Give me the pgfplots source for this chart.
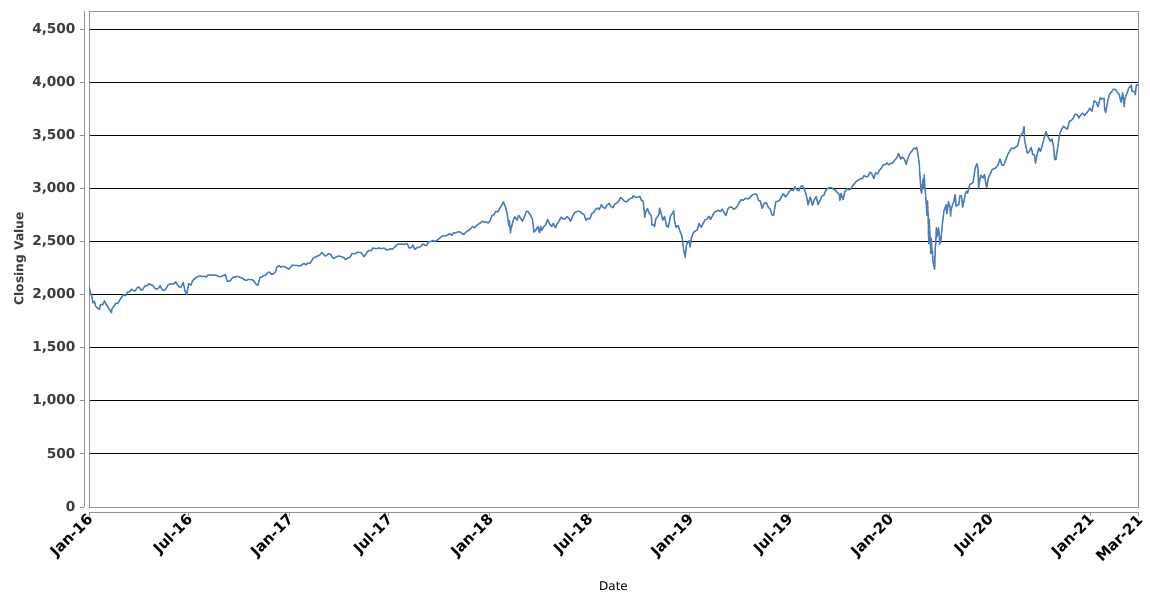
\documentclass[border=0pt]{standalone}
\usepackage{fontspec}
\setmainfont{DejaVu Sans}
\usepackage{pgfplots}
\pgfplotsset{compat=1.18}
\definecolor{serie}{RGB}{74,126,187}
\definecolor{tickgray}{RGB}{60,60,60}
\begin{document}
\begin{tikzpicture}
\useasboundingbox (0,0) rectangle (1150bp,600bp);
\begin{axis}[
  at={(89bp,93bp)}, anchor=south west,
  scale only axis, width=1049bp, height=496bp,
  xmin=0, xmax=1914, ymin=0, ymax=4670,
  axis line style={draw=gray!85, line width=0.9bp},
  ytick={0,500,...,4500},
  ymajorgrids, grid style={black, line width=0.9bp},
  xtick={0,182,366,547,731,912,1096,1277,1461,1643,1827,1914},
  xticklabels={Jan-16,Jul-16,Jan-17,Jul-17,Jan-18,Jul-18,Jan-19,Jul-19,Jan-20,Jul-20,Jan-21,Mar-21},
  xtick pos=bottom, ytick pos=left,
  tick align=outside, major tick length=4bp,
  xtick style={yshift=-5bp, draw=gray!85, line width=0.9bp},
  ytick style={xshift=-5bp, draw=gray!85, line width=0.9bp},
  /pgf/number format/assume math mode=true,
  /pgf/number format/1000 sep={,},
  scaled y ticks=false,
  yticklabel style={font=\fontsize{13.7}{16}\selectfont\bfseries, text=tickgray, xshift=-6bp},
  xticklabel style={font=\fontsize{14.8}{17}\selectfont\bfseries, text=black, rotate=45, anchor=east, yshift=-6bp, xshift=0bp},
  xlabel={Date}, ylabel={Closing Value},
  xlabel style={at={(axis description cs:0.5,-0.159)}, anchor=center, font=\fontsize{12}{14}\selectfont},
  ylabel style={at={(axis description cs:-0.0658,0.5)}, anchor=center, font=\fontsize{12.3}{15}\selectfont\bfseries, text=tickgray},
  clip mode=individual,
]
\addplot[serie, line width=1.5bp, mark=none, line join=round] coordinates {
(0,2075)(3,2013)(5,1990)(7,1922)(10,1938)(12,1890)(14,1880)(19,1859)(21,1907)(25,1903)(28,1940)(32,1903)(35,1880)(38,1853)(41,1829)(42,1865)(46,1895)(49,1918)(53,1921)(56,1948)(60,1978)(63,1999)(67,1989)(70,2022)(74,2027)(77,2050)(81,2036)(84,2036)(88,2064)(91,2073)(95,2042)(98,2048)(102,2082)(105,2081)(110,2102)(112,2092)(116,2088)(119,2065)(123,2051)(126,2057)(130,2084)(133,2047)(137,2040)(140,2052)(144,2090)(147,2099)(151,2100)(154,2099)(158,2119)(161,2096)(165,2071)(168,2071)(172,2113)(175,2037)(178,2001)(182,2103)(186,2089)(189,2130)(193,2152)(196,2162)(200,2173)(203,2175)(207,2169)(210,2174)(214,2164)(217,2183)(221,2185)(224,2184)(228,2182)(231,2184)(235,2175)(238,2169)(242,2171)(245,2180)(249,2186)(252,2128)(256,2125)(259,2139)(263,2164)(266,2165)(270,2171)(273,2168)(277,2160)(280,2153)(284,2139)(287,2133)(291,2144)(294,2141)(298,2139)(301,2126)(305,2097)(308,2085)(312,2163)(315,2164)(319,2181)(322,2182)(326,2204)(329,2213)(333,2191)(336,2192)(340,2212)(343,2260)(347,2271)(350,2258)(354,2266)(357,2264)(361,2250)(364,2239)
(368,2258)(371,2277)(375,2275)(378,2275)(382,2271)(385,2271)(389,2281)(392,2295)(396,2279)(399,2297)(403,2293)(406,2316)(410,2349)(413,2351)(417,2364)(420,2367)(425,2396)(427,2383)(431,2362)(434,2372)(438,2385)(441,2378)(445,2344)(448,2344)(452,2358)(455,2363)(459,2360)(462,2355)(466,2344)(468,2329)(473,2348)(476,2349)(480,2388)(483,2384)(487,2388)(490,2399)(494,2397)(497,2391)(502,2357)(503,2365)(508,2405)(511,2416)(515,2412)(518,2439)(522,2433)(525,2432)(529,2440)(532,2433)(536,2436)(539,2438)(543,2419)(546,2423)(550,2432)(553,2425)(557,2444)(560,2459)(564,2477)(567,2473)(571,2477)(574,2472)(578,2477)(581,2477)(584,2439)(588,2441)(591,2468)(594,2430)(595,2425)(599,2444)(602,2443)(606,2457)(609,2477)(613,2465)(616,2461)(620,2497)(623,2500)(627,2508)(630,2502)(634,2507)(637,2519)(641,2537)(644,2549)(648,2555)(651,2553)(655,2562)(658,2575)(662,2557)(665,2581)(669,2579)(672,2588)(676,2591)(679,2582)(683,2564)(686,2579)(690,2599)(693,2602)(697,2626)(700,2642)(704,2629)(707,2651)(711,2664)(714,2675)(718,2690)(721,2683)(725,2683)(728,2674)
(732,2695)(735,2743)(739,2752)(742,2786)(746,2777)(749,2810)(753,2839)(756,2873)(760,2822)(763,2762)(766,2649)(767,2695)(769,2581)(770,2620)(774,2698)(777,2732)(781,2701)(784,2747)(788,2714)(791,2691)(795,2740)(798,2786)(801,2783)(805,2752)(809,2711)(812,2588)(816,2613)(819,2641)(822,2582)(824,2644)(826,2604)(830,2642)(833,2656)(837,2708)(840,2670)(844,2639)(847,2670)(851,2630)(854,2663)(858,2697)(861,2728)(865,2711)(868,2713)(872,2733)(875,2721)(879,2690)(882,2735)(886,2772)(889,2779)(893,2786)(896,2780)(900,2763)(903,2755)(907,2699)(910,2718)(914,2713)(917,2760)(921,2774)(924,2801)(928,2815)(931,2802)(935,2846)(938,2819)(942,2813)(945,2840)(949,2858)(952,2833)(956,2818)(959,2850)(963,2862)(966,2875)(970,2914)(973,2902)(977,2878)(980,2872)(984,2888)(987,2905)(991,2908)(993,2931)(997,2916)(1001,2914)(1005,2926)(1008,2886)(1011,2880)(1013,2786)(1014,2728)(1015,2767)(1019,2810)(1022,2768)(1026,2741)(1027,2656)(1029,2659)(1032,2641)(1034,2711)(1036,2723)(1040,2756)(1041,2814)(1043,2781)(1047,2701)(1050,2736)(1054,2641)(1055,2650)(1057,2633)(1061,2743)(1064,2760)(1067,2790)(1068,2700)(1071,2633)(1075,2651)(1078,2600)(1082,2546)(1085,2417)(1088,2351)(1090,2468)(1092,2486)(1095,2507)
(1097,2448)(1099,2532)(1103,2585)(1106,2596)(1110,2610)(1113,2671)(1117,2633)(1120,2665)(1124,2704)(1127,2707)(1131,2738)(1134,2708)(1138,2745)(1141,2776)(1145,2784)(1148,2793)(1152,2782)(1155,2804)(1159,2771)(1162,2743)(1166,2810)(1169,2822)(1173,2824)(1176,2801)(1180,2815)(1183,2834)(1187,2873)(1190,2893)(1194,2888)(1197,2907)(1201,2900)(1204,2905)(1208,2927)(1211,2940)(1215,2946)(1218,2946)(1222,2884)(1225,2881)(1228,2812)(1232,2860)(1236,2864)(1239,2826)(1243,2803)(1246,2752)(1249,2744)(1253,2873)(1257,2880)(1260,2887)(1264,2926)(1267,2950)(1271,2918)(1274,2942)(1278,2973)(1281,2990)(1285,2979)(1288,3014)(1292,2985)(1295,2977)(1299,3019)(1302,3025)(1306,2980)(1309,2932)(1312,2845)(1316,2919)(1318,2883)(1320,2840)(1323,2889)(1327,2924)(1330,2847)(1334,2887)(1337,2926)(1341,2937)(1344,2979)(1348,3000)(1351,3007)(1355,3006)(1358,2992)(1362,2984)(1365,2962)(1369,2940)(1370,2887)(1372,2952)(1376,2893)(1379,2970)(1383,2996)(1386,2986)(1390,2996)(1393,3023)(1397,3047)(1400,3067)(1404,3078)(1407,3093)(1411,3091)(1414,3120)(1418,3109)(1421,3110)(1425,3153)(1428,3141)(1432,3093)(1435,3146)(1439,3135)(1442,3169)(1446,3192)(1449,3221)(1453,3224)(1456,3240)(1459,3221)
(1463,3235)(1466,3238)(1470,3265)(1474,3289)(1477,3330)(1481,3276)(1484,3295)(1488,3273)(1491,3226)(1495,3298)(1498,3328)(1502,3357)(1505,3380)(1509,3370)(1510,3386)(1512,3338)(1515,3226)(1516,3128)(1518,2979)(1519,2954)(1522,3090)(1523,3003)(1524,3130)(1525,3024)(1526,2972)(1529,2747)(1530,2882)(1531,2741)(1532,2481)(1533,2711)(1536,2386)(1537,2529)(1538,2398)(1539,2409)(1540,2305)(1543,2237)(1544,2447)(1545,2476)(1546,2630)(1547,2541)(1550,2627)(1551,2585)(1552,2471)(1553,2527)(1554,2489)(1557,2664)(1559,2750)(1560,2790)(1564,2846)(1565,2761)(1566,2783)(1568,2875)(1571,2823)(1572,2737)(1573,2799)(1575,2836)(1578,2878)(1580,2940)(1581,2912)(1582,2831)(1585,2843)(1587,2848)(1589,2930)(1592,2930)(1594,2820)(1595,2852)(1596,2864)(1599,2954)(1601,2972)(1603,2955)(1607,3036)(1610,3044)(1613,3056)(1617,3194)(1620,3232)(1622,3190)(1623,3002)(1624,3041)(1627,3124)(1631,3098)(1634,3131)(1636,3050)(1638,3009)(1641,3100)(1644,3130)(1648,3179)(1652,3185)(1655,3197)(1659,3225)(1662,3276)(1666,3216)(1669,3218)(1673,3271)(1677,3327)(1680,3351)(1683,3380)(1687,3373)(1691,3390)(1694,3397)(1698,3478)(1701,3508)(1704,3526)(1706,3580)(1707,3455)(1708,3427)(1712,3332)(1715,3341)(1719,3385)(1722,3319)(1725,3315)(1727,3237)(1729,3298)(1733,3380)(1736,3348)(1740,3419)(1743,3477)(1746,3534)(1750,3484)(1754,3443)(1757,3465)(1760,3390)(1762,3271)(1764,3270)(1767,3369)(1771,3510)(1774,3550)(1778,3585)(1782,3567)(1785,3557)(1789,3635)(1792,3638)(1796,3662)(1799,3699)(1803,3694)(1806,3663)(1810,3695)(1813,3709)(1817,3687)(1819,3703)(1823,3727)(1826,3756)
(1830,3726)(1834,3824)(1838,3809)(1841,3768)(1845,3852)(1848,3841)(1852,3850)(1853,3750)(1855,3714)(1859,3826)(1862,3887)(1866,3910)(1869,3934)(1873,3931)(1876,3907)(1880,3881)(1882,3829)(1883,3811)(1886,3901)(1889,3768)(1890,3842)(1894,3898)(1897,3943)(1901,3963)(1902,3974)(1903,3915)(1904,3913)(1908,3910)(1909,3881)(1911,3975)(1914,3971)
};
\draw[gray!85, line width=0.9bp] ([xshift=-5bp]rel axis cs:0,0) -- ([xshift=-5bp]rel axis cs:0,1);
\draw[gray!85, line width=0.9bp] ([yshift=-5bp]rel axis cs:0,0) -- ([yshift=-5bp]rel axis cs:1,0);
\end{axis}
\end{tikzpicture}
\end{document}
